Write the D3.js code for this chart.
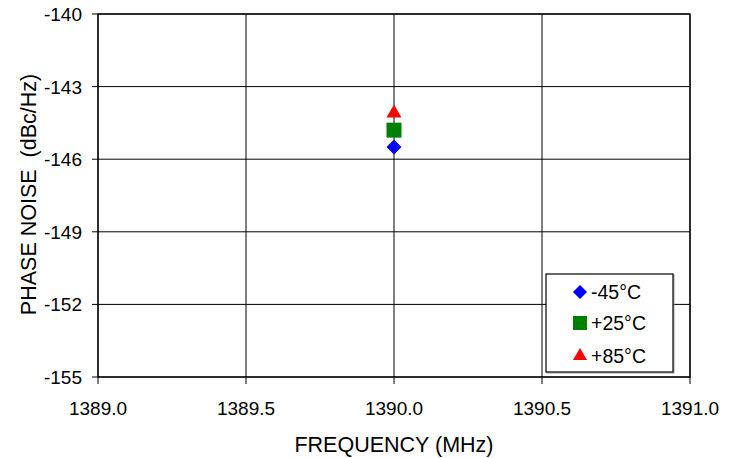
<!DOCTYPE html>
<html>
<head>
<meta charset="utf-8">
<script src="https://cdn.jsdelivr.net/npm/d3@7"></script>
<style>
  body { margin: 0; background: #fff; }
  text { font-family: "Liberation Sans", Arial, Helvetica, sans-serif; fill: #000; }
</style>
</head>
<body>
<svg id="chart" width="739" height="458"></svg>
<script>
// data
var series = ['-45\u00B0C', '+25\u00B0C', '+85\u00B0C'];
var colors = ['#0000ff', '#008000', '#ff0000'];
var freqs = [1390.0, 1390.0, 1390.0];
var noise = [-145.5, -144.8, -144.1];
var xTicks = [1389.0, 1389.5, 1390.0, 1390.5, 1391.0];
var yTicks = [-140, -143, -146, -149, -152, -155];

var svg = d3.select('#chart');
var plotL = 98, plotR = 690, plotT = 14, plotB = 377;

var x = d3.scaleLinear().domain([1389, 1391]).range([plotL, plotR]);
var y = d3.scaleLinear().domain([-155, -140]).range([plotB, plotT]);

// marker paths: rotated square, square, triangle
function marker(i, s){
    if (i == 0) return d3.symbol().type(d3.symbolSquare).size(s * s / 2)();
    if (i == 1) return d3.symbol().type(d3.symbolSquare).size(s * s)();
    return d3.symbol().type(d3.symbolTriangle).size(Math.sqrt(3) / 4 * s * s)();
}
function markerRot(i){ return i == 0 ? ' rotate(45)' : ''; }

// grid
svg.append('g')
    .selectAll('line')
    .data(xTicks)
    .enter().append('line')
    .attr('x1', function(d){ return x(d); })
    .attr('x2', function(d){ return x(d); })
    .attr('y1', plotT)
    .attr('y2', plotB + 7)
    .style('stroke', '#000')
    .style('stroke-width', 1);

svg.append('g')
    .selectAll('line')
    .data(yTicks)
    .enter().append('line')
    .attr('x1', plotL - 6)
    .attr('x2', plotR)
    .attr('y1', function(d){ return y(d); })
    .attr('y2', function(d){ return y(d); })
    .style('stroke', '#000')
    .style('stroke-width', 1);

// plot frame
svg.append('rect')
    .attr('x', plotL)
    .attr('y', plotT)
    .attr('width', plotR - plotL)
    .attr('height', plotB - plotT)
    .style('fill', 'none')
    .style('stroke', '#000')
    .style('stroke-width', 1.3);

// tick labels
svg.append('g')
    .selectAll('text')
    .data(yTicks)
    .enter().append('text')
    .attr('x', 82)
    .attr('y', function(d){ return y(d) + 7; })
    .attr('text-anchor', 'end')
    .style('font-size', '19px')
    .text(function(d){ return d; });

svg.append('g')
    .selectAll('text')
    .data(xTicks)
    .enter().append('text')
    .attr('x', function(d){ return x(d); })
    .attr('y', 415)
    .attr('text-anchor', 'middle')
    .style('font-size', '19px')
    .text(function(d){ return d.toFixed(1); });

// axis titles
svg.append('text')
    .attr('x', (plotL + plotR) / 2)
    .attr('y', 452)
    .attr('text-anchor', 'middle')
    .style('font-size', '21.5px')
    .text('FREQUENCY (MHz)');

svg.append('text')
    .attr('transform', 'translate(36,' + ((plotT + plotB) / 2 - 1) + ') rotate(-90)')
    .attr('text-anchor', 'middle')
    .style('font-size', '21.5px')
    .attr('xml:space', 'preserve')
    .text('PHASE NOISE  (dBc/Hz)');

// points
var pts = svg.append('g');
series.forEach(function(name, i){
    pts.append('path')
        .attr('d', marker(i, i == 0 ? 15 : 15))
        .attr('transform', 'translate(' + x(freqs[i]) + ',' + y(noise[i]) + ')' + markerRot(i))
        .style('fill', colors[i]);
});

// legend
var lg = svg.append('g');
lg.append('rect')
    .attr('x', 547)
    .attr('y', 275)
    .attr('width', 127)
    .attr('height', 98)
    .style('fill', 'none')
    .style('stroke', '#999')
    .style('stroke-width', 1);
lg.append('rect')
    .attr('x', 546)
    .attr('y', 274)
    .attr('width', 127)
    .attr('height', 98)
    .style('fill', '#fff')
    .style('stroke', '#000')
    .style('stroke-width', 1.2);

var rowY = [292, 323, 356];
series.forEach(function(name, i){
    lg.append('path')
        .attr('d', marker(i, 14))
        .attr('transform', 'translate(580,' + rowY[i] + ')' + markerRot(i))
        .style('fill', colors[i]);
    lg.append('text')
        .attr('x', 591)
        .attr('y', rowY[i] + 7)
        .style('font-size', '19.5px')
        .text(name);
});
</script>
</body>
</html>
